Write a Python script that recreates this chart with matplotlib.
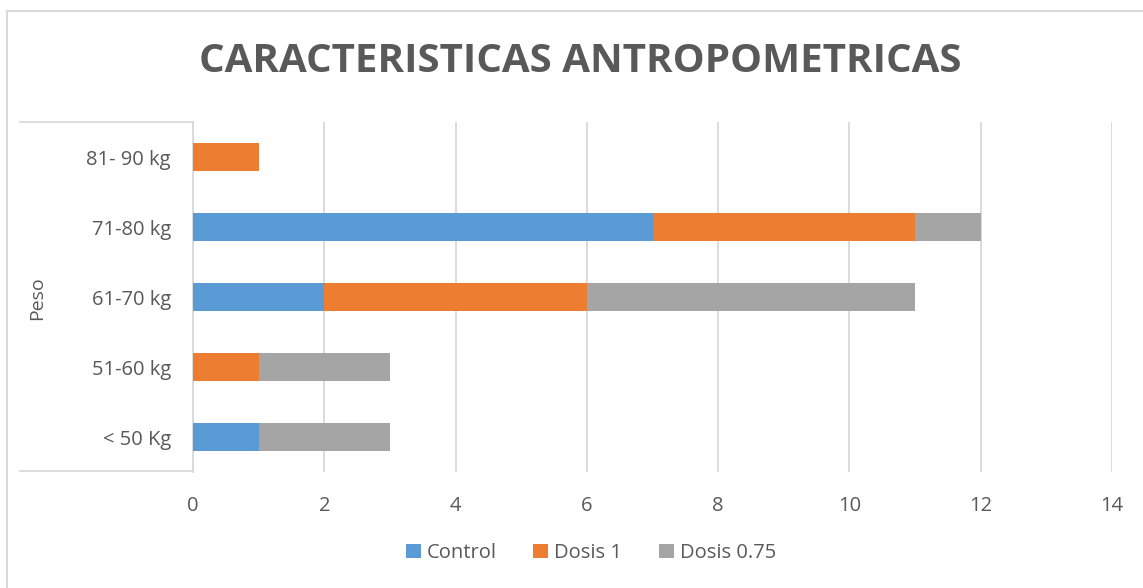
import matplotlib
matplotlib.use('Agg')
from matplotlib import pyplot as plt
from matplotlib.lines import Line2D

plt.rcParams['font.family'] = ['Open Sans', 'DejaVu Sans']

# Data

categories = ['< 50 Kg', '51-60 kg', '61-70 kg', '71-80 kg', '81- 90 kg']
control = [1, 0, 2, 7, 0]
dosis_1 = [0, 1, 4, 4, 1]
dosis_075 = [2, 2, 5, 1, 0]
series_names = ['Control', 'Dosis 1', 'Dosis 0.75']
colors = ['#5B9BD5', '#ED7D31', '#A5A5A5']
xticks = [0, 2, 4, 6, 8, 10, 12, 14]

text_color = '#595959'
grid_color = '#D9D9D9'

fig = plt.figure(figsize = (11.43, 5.88), dpi = 100)
ax = fig.add_axes([193 / 1143, 1 - 472 / 588, (1112 - 193) / 1143, 350 / 588])

ypos = range(len(categories))
left = [0] * len(categories)
for name, values, color in zip(series_names, [control, dosis_1, dosis_075], colors):
  ax.barh(ypos, values, height = 0.39, left = left, color = color, label = name, zorder = 3)
  left = [a + b for a, b in zip(left, values)]

ax.set_xlim(0, 14)
ax.set_ylim(-0.5, len(categories) - 0.5)
ax.set_xticks(xticks)
ax.set_yticks(list(ypos), labels = categories)

ax.grid(axis = 'x', color = grid_color, linewidth = 1.3, zorder = 0)
for side in ['top', 'right', 'bottom']:
  ax.spines[side].set_visible(False)
ax.spines['left'].set_color(grid_color)
ax.spines['left'].set_linewidth(1.3)

ax.tick_params(axis = 'both', length = 0, labelsize = 14.5, labelcolor = text_color)
ax.tick_params(axis = 'y', pad = 16)
ax.tick_params(axis = 'x', pad = 17)

# Multi-level category bracket (top and bottom lines)

for y in [122, 471]:
  fig.add_artist(Line2D([20 / 1143, 193 / 1143], [1 - y / 588, 1 - y / 588],
                        color = grid_color, linewidth = 1.3, transform = fig.transFigure))

fig.text(37 / 1143, 1 - 298 / 588, 'Peso', rotation = 90, ha = 'center', va = 'center',
         fontsize = 14, color = text_color)

fig.text(580 / 1143, 1 - 62 / 588, 'CARACTERISTICAS ANTROPOMETRICAS', ha = 'center', va = 'center',
         fontsize = 29, fontweight = 'bold', color = text_color)

# Chart border (only top and left visible in the reference)

fig.add_artist(Line2D([7 / 1143, 7 / 1143], [0, 1 - 11 / 588], color = grid_color,
                      linewidth = 1.5, transform = fig.transFigure))
fig.add_artist(Line2D([7 / 1143, 1], [1 - 11 / 588, 1 - 11 / 588], color = grid_color,
                      linewidth = 1.5, transform = fig.transFigure))

fig.legend(loc = 'center', bbox_to_anchor = (591 / 1143, 1 - 553 / 588), ncol = 3, frameon = False,
           fontsize = 14.5, labelcolor = text_color, handlelength = 0.75, handleheight = 0.75,
           handletextpad = 0.3, columnspacing = 1.8)

fig.savefig('out.png', dpi = 100)
